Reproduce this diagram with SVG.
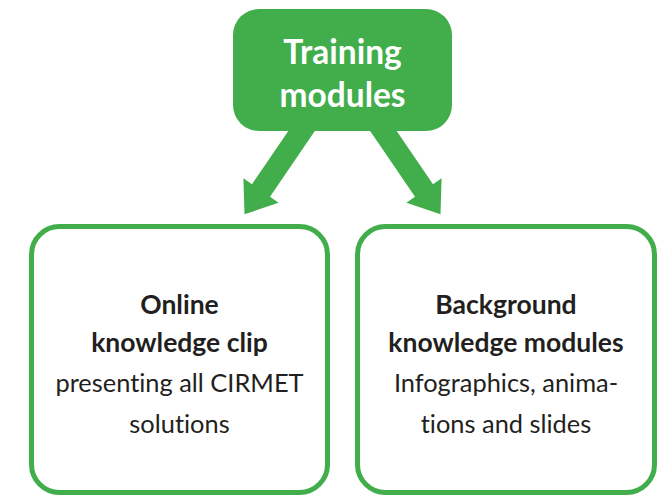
<svg xmlns="http://www.w3.org/2000/svg" width="658" height="495" viewBox="0 0 658 495">
<style>
.arrow{fill:#41ae4b;}
.box{fill:#ffffff;stroke:#41ae4b;stroke-width:5;}
.top{fill:#41ae4b;}
.t{font-family:Lato,"Open Sans","Liberation Sans",sans-serif;text-anchor:middle;fill:#231f20;font-size:25.4px;font-variant-ligatures:none;}
.b{font-weight:bold;font-size:26.5px;}
.w{fill:#ffffff;font-weight:bold;font-size:33.5px;}
</style>
<rect width="658" height="495" fill="#ffffff"/>
<g id="connectors">
<polygon class="arrow" points="298.2,116.5 316.2,129.1 270,196.8 278.6,202.8 244.5,214.3 243.4,178.2 252,184.2"/>
<polygon class="arrow" points="386.8,116.5 368.8,129.1 415,196.8 406.4,202.8 440.5,214.3 441.6,178.2 433,184.2"/>
</g>
<g id="node-training">
<rect class="top" x="233" y="9" width="219" height="122" rx="26"/>
<text class="t w" x="342.5" y="64">Training</text>
<text class="t w" x="342.5" y="107">modules</text>
</g>
<g id="node-online">
<rect class="box" x="31.5" y="226.5" width="296" height="266" rx="28"/>
<text class="t b" x="179.5" y="314">Online</text>
<text class="t b" x="179.5" y="352">knowledge clip</text>
<text class="t" x="179.5" y="392">presenting all CIRMET</text>
<text class="t" x="179.5" y="433">solutions</text>
</g>
<g id="node-background">
<rect class="box" x="357.5" y="226.5" width="297" height="266" rx="28"/>
<text class="t b" x="506" y="314">Background</text>
<text class="t b" x="506" y="352">knowledge modules</text>
<text class="t" x="506" y="392">Infographics, anima-</text>
<text class="t" x="506" y="433">tions and slides</text>
</g>
</svg>
